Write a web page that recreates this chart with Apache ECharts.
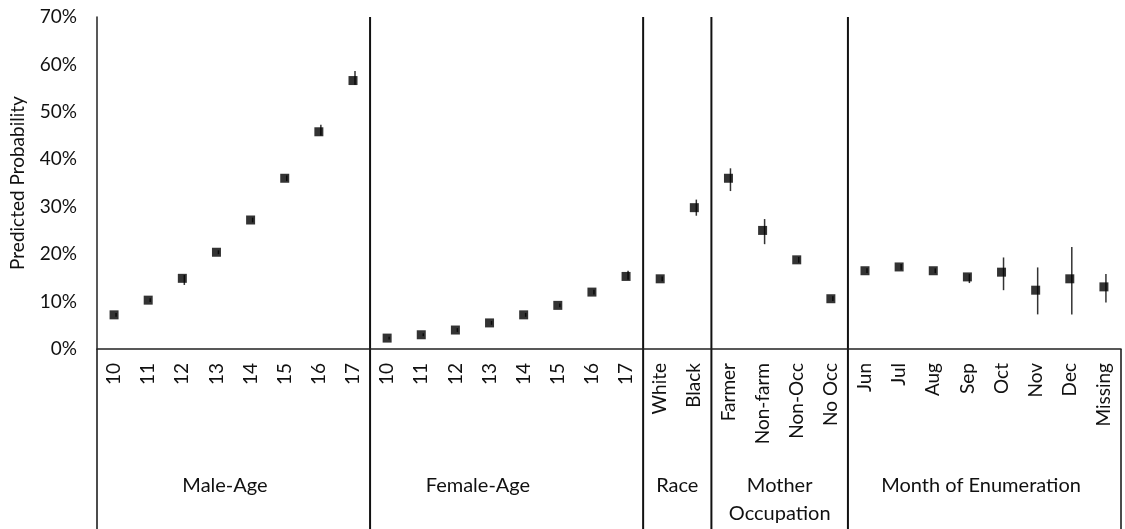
<!DOCTYPE html>
<html><head><meta charset="utf-8">
<script src="https://cdn.jsdelivr.net/npm/echarts@6/dist/echarts.min.js"></script>
<style>html,body{margin:0;padding:0;background:#fff}#c{width:1125px;height:529px}</style>
</head><body><div id="c"></div>
<script>
// ---------------- DATA ----------------
const maleAgeLabels = ['10','11','12','13','14','15','16','17'];
const femaleAgeLabels = ['10','11','12','13','14','15','16','17'];
const raceLabels = ['White','Black'];
const occupationLabels = ['Farmer','Non-farm','Non-Occ','No Occ'];
const monthLabels = ['Jun','Jul','Aug','Sep','Oct','Nov','Dec','Missing'];

const maleAge = [0.072,0.103,0.149,0.204,0.272,0.360,0.458,0.566];
const maleAgeLow = [0.068,0.099,0.135,0.200,0.267,0.354,0.450,0.557];
const maleAgeHigh = [0.076,0.107,0.156,0.208,0.277,0.366,0.473,0.586];

const femaleAge = [0.023,0.030,0.040,0.055,0.072,0.092,0.120,0.153];
const femaleAgeLow = [0.020,0.027,0.036,0.051,0.068,0.088,0.115,0.146];
const femaleAgeHigh = [0.026,0.033,0.044,0.059,0.076,0.096,0.125,0.165];

const race = [0.148,0.298];
const raceLow = [0.143,0.281];
const raceHigh = [0.153,0.315];

const occupation = [0.360,0.250,0.188,0.106];
const occupationLow = [0.333,0.221,0.182,0.101];
const occupationHigh = [0.381,0.274,0.194,0.111];

const month = [0.165,0.173,0.165,0.152,0.162,0.124,0.148,0.131];
const monthLow = [0.160,0.167,0.160,0.139,0.124,0.073,0.073,0.098];
const monthHigh = [0.170,0.179,0.170,0.158,0.193,0.172,0.215,0.158];

const groupNames = ['Male-Age','Female-Age','Race','Mother\nOccupation','Month of Enumeration'];
const yTicks = [0,0.1,0.2,0.3,0.4,0.5,0.6,0.7];

// ---------------- BUILD ----------------
const groupLabelLists = [maleAgeLabels,femaleAgeLabels,raceLabels,occupationLabels,monthLabels];
const categories = [].concat(...groupLabelLists);
const values = [].concat(maleAge,femaleAge,race,occupation,month);
const lows = [].concat(maleAgeLow,femaleAgeLow,raceLow,occupationLow,monthLow);
const highs = [].concat(maleAgeHigh,femaleAgeHigh,raceHigh,occupationHigh,monthHigh);

const FONT = 'Lato, "Open Sans", sans-serif';
const TXT = '#111';

const chart = echarts.init(document.getElementById('c'), null, {renderer:'canvas'});
const option = {
  animation:false,
  grid:{left:97,right:4,top:17,bottom:180},
  xAxis:{
    type:'category', data:categories, boundaryGap:true,
    axisLine:{lineStyle:{color:'#222',width:1.5}},
    axisTick:{show:false},
    axisLabel:{rotate:90, interval:0, margin:14, fontFamily:FONT, fontSize:19, color:TXT},
    splitLine:{show:false}
  },
  yAxis:{
    type:'value', min:yTicks[0], max:yTicks[yTicks.length-1], interval:0.1,
    axisLine:{show:true, lineStyle:{color:'#222',width:1.5}},
    axisTick:{show:false}, splitLine:{show:false},
    axisLabel:{formatter:v=>Math.round(v*100)+'%', margin:20, fontFamily:FONT, fontSize:19, color:TXT},
    name:'Predicted Probability', nameLocation:'middle', nameGap:70,
    nameTextStyle:{fontFamily:FONT, fontSize:19, color:TXT}
  },
  series:[
    {
      type:'custom',
      data: values.map((v,i)=>[i,lows[i],highs[i]]),
      renderItem:function(params, api){
        const lo = api.coord([api.value(0), api.value(1)]);
        const hi = api.coord([api.value(0), api.value(2)]);
        return {type:'line', shape:{x1:lo[0]+2,y1:lo[1],x2:hi[0]+2,y2:hi[1]},
          style:{stroke:'#333', lineWidth:1.5}};
      },
      z:2
    },
    {
      type:'scatter',
      data: values.map((v,i)=>[i,v]),
      symbol:'rect', symbolSize:9,
      itemStyle:{color:'#000'},
      z:3
    }
  ]
};
chart.setOption(option);

// Group separators and group labels, positioned from the axis scale
function bx(k){ // pixel x of boundary before category k
  const c0 = chart.convertToPixel({xAxisIndex:0}, 0);
  const c1 = chart.convertToPixel({xAxisIndex:0}, 1);
  const w = c1 - c0;
  return c0 - w/2 + k*w;
}
const yTop = chart.convertToPixel({yAxisIndex:0}, yTicks[yTicks.length-1]);
const yBase = chart.convertToPixel({yAxisIndex:0}, 0);
const H = 529;
const bounds = [0];
groupLabelLists.forEach(l=>bounds.push(bounds[bounds.length-1]+l.length));
const shifts = [-0.25,-0.84,0,0,-0.1];
const graphics = [];
bounds.forEach((b,i)=>{
  const x = bx(b);
  const outer = (i===0 || i===bounds.length-1);
  graphics.push({type:'line', shape:{x1:x,y1:outer?yBase:yTop,x2:x,y2:H},
    style:{stroke:'#111', lineWidth:outer?1.5:2}, silent:true});
});
groupNames.forEach((g,i)=>{
  const cx = (bx(bounds[i])+bx(bounds[i+1]))/2 + shifts[i]*(bx(1)-bx(0));
  graphics.push({type:'text', x:cx, y:472,
    style:{text:g, fill:TXT, font:'20px '+FONT, textAlign:'center', textVerticalAlign:'top', lineHeight:28},
    silent:true});
});
chart.setOption({graphic:graphics});
</script>
</body></html>
